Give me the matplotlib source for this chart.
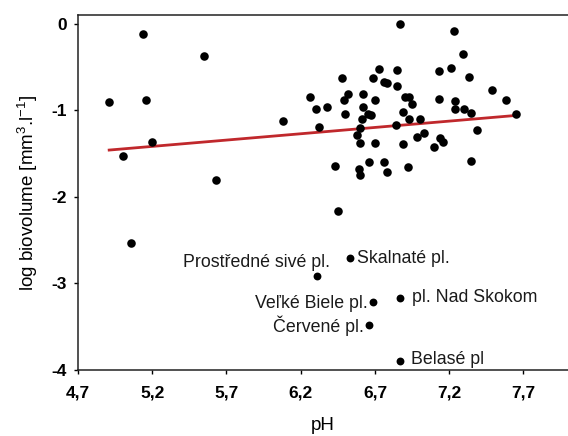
import matplotlib
matplotlib.use("Agg")
import matplotlib.pyplot as plt
from matplotlib.ticker import FixedLocator, FuncFormatter

plt.rcParams['font.family'] = ['Liberation Sans', 'DejaVu Sans']
plt.rcParams['mathtext.default'] = 'regular'
plt.rcParams['axes.unicode_minus'] = False

# lakes: pH vs log biovolume
ph = [4.91, 5.14, 5.16, 5.55, 5.00, 5.20, 5.63, 6.08, 5.06, 6.87,
      7.23, 7.29, 6.26, 6.30, 6.38, 6.32, 6.48, 6.52, 6.49, 6.50,
      6.62, 6.62, 6.61, 6.65, 6.67, 6.60, 6.58, 6.60, 6.70, 6.43,
      6.59, 6.60, 6.66, 6.76, 6.78, 6.92, 6.45, 6.73, 6.69, 6.76,
      6.78, 6.85, 6.85, 6.70, 6.90, 6.93, 6.95, 6.89, 6.93, 7.00,
      6.84, 6.89, 6.98, 7.03, 7.10, 7.14, 7.16, 7.13, 7.21, 7.33,
      7.13, 7.24, 7.24, 7.30, 7.35, 7.39, 7.35, 7.49, 7.58, 7.65]
logbv = [-0.90, -0.12, -0.88, -0.37, -1.53, -1.37, -1.80, -1.13, -2.53, 0.00,
         -0.085, -0.35, -0.85, -0.98, -0.96, -1.19, -0.63, -0.81, -0.885, -1.04,
         -0.815, -0.965, -1.10, -1.04, -1.05, -1.20, -1.29, -1.38, -1.38, -1.64,
         -1.68, -1.745, -1.60, -1.60, -1.715, -1.66, -2.16, -0.52, -0.63, -0.67,
         -0.69, -0.53, -0.72, -0.885, -0.85, -0.85, -0.93, -1.02, -1.10, -1.10,
         -1.17, -1.39, -1.31, -1.26, -1.43, -1.315, -1.37, -0.55, -0.515, -0.62,
         -0.865, -0.89, -0.99, -0.99, -1.03, -1.23, -1.59, -0.77, -0.88, -1.04]

# named outliers
names = ['Skalnaté pl.', 'Prostředné sivé pl.', 'Veľké Biele pl.',
         'pl. Nad Skokom', 'Červené pl.', 'Belasé pl']
names_ph = [6.53, 6.31, 6.69, 6.87, 6.66, 6.87]
names_bv = [-2.71, -2.91, -3.21, -3.17, -3.48, -3.90]
# label offsets in pixels and alignment
names_off = [(7, -5), (13, 9), (-6, -6), (12, -4), (-5, -7), (11, -3)]
names_ha = ['left', 'right', 'right', 'left', 'right', 'left']

# regression line
fit_x = [4.91, 7.65]
fit_y = [-1.46, -1.06]

xticks = [4.7, 5.2, 5.7, 6.2, 6.7, 7.2, 7.7]
yticks = [-4, -3, -2, -1, 0]

fig = plt.figure(figsize=(5.68, 4.36), dpi=100)
ax = fig.add_axes([0.1373, 0.1514, 0.8627, 0.8142])

ax.scatter(ph, logbv, s=38, c='black', linewidths=0, zorder=3)
ax.scatter(names_ph, names_bv, s=32, c='black', linewidths=0, zorder=3)
ax.plot(fit_x, fit_y, color='#c0282c', lw=2.0, zorder=2)

for n, x, y, off, ha in zip(names, names_ph, names_bv, names_off, names_ha):
    ax.annotate(n, (x, y), xytext=off, textcoords='offset pixels',
                ha=ha, va='baseline', fontsize=12.8, color='#1a1a1a')

ax.set_xlim(4.7, 8.0)
ax.set_ylim(-4, 0.1)
ax.xaxis.set_major_locator(FixedLocator(xticks))
ax.yaxis.set_major_locator(FixedLocator(yticks))
ax.xaxis.set_major_formatter(FuncFormatter(lambda v, p: ('%.1f' % v).replace('.', ',')))
ax.yaxis.set_major_formatter(FuncFormatter(lambda v, p: '%d' % v))

for lbl in ax.get_xticklabels() + ax.get_yticklabels():
    lbl.set_fontweight('bold')
ax.tick_params(axis='both', direction='out', length=3, width=1.0, labelsize=12.5)
ax.tick_params(axis='x', pad=8)
ax.tick_params(axis='y', pad=5)

ax.spines['right'].set_visible(False)
for s in ['left', 'bottom', 'top']:
    ax.spines[s].set_linewidth(1.1)
    ax.spines[s].set_color('#222222')

ax.set_xlabel('pH', fontsize=13.5, labelpad=12)
ax.set_ylabel('log biovolume [mm$^3$.l$^{-1}$]', fontsize=13.5, labelpad=8)

fig.savefig('out.png', dpi=100)
